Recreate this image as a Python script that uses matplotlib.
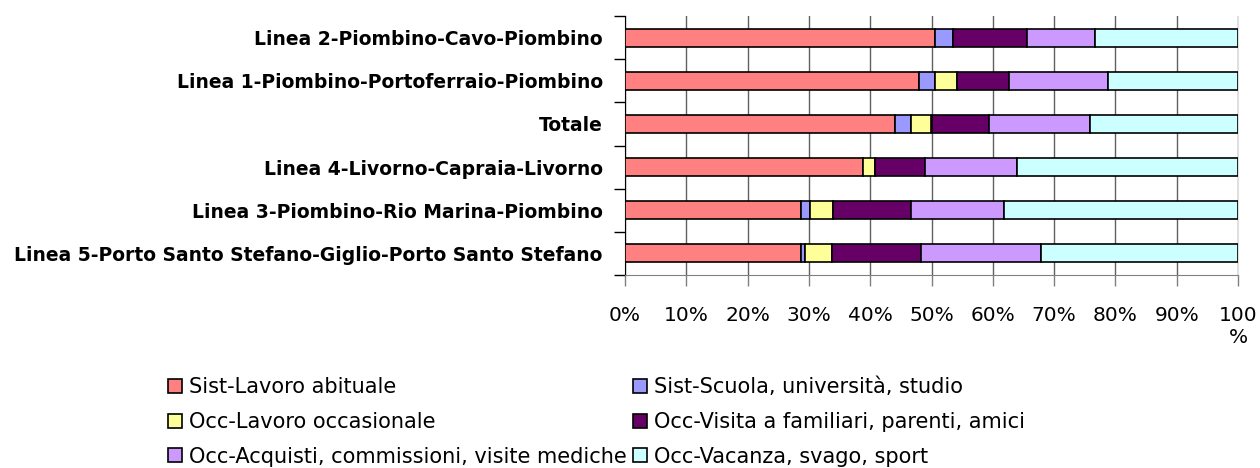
import numpy as np
import matplotlib.pyplot as plt
from matplotlib.patches import Patch

plt.rcParams['font.family'] = ['DejaVu Sans']

# categorie (dall'alto verso il basso)
linee = [
    "Linea 2-Piombino-Cavo-Piombino",
    "Linea 1-Piombino-Portoferraio-Piombino",
    "Totale",
    "Linea 4-Livorno-Capraia-Livorno",
    "Linea 3-Piombino-Rio Marina-Piombino",
    "Linea 5-Porto Santo Stefano-Giglio-Porto Santo Stefano",
]

motivi = [
    "Sist-Lavoro abituale",
    "Sist-Scuola, università, studio",
    "Occ-Lavoro occasionale",
    "Occ-Visita a familiari, parenti, amici",
    "Occ-Acquisti, commissioni, visite mediche",
    "Occ-Vacanza, svago, sport",
]

# quote percentuali per motivo (stesso ordine di linee)
sist_lavoro = [50.6, 48.0, 44.1, 38.8, 28.7, 28.7]
sist_scuola = [2.9, 2.5, 2.6, 0.0, 1.4, 0.7]
occ_lavoro = [0.0, 3.6, 3.3, 2.0, 3.9, 4.3]
occ_visita = [12.0, 8.5, 9.3, 8.1, 12.7, 14.6]
occ_acquisti = [11.1, 16.2, 16.6, 15.0, 15.2, 19.5]
occ_vacanza = [23.4, 21.2, 24.1, 36.1, 38.1, 32.2]

colori = ["#FF8080", "#9999FF", "#FFFF99", "#660066", "#CC99FF", "#CCFFFF"]

serie = [sist_lavoro, sist_scuola, occ_lavoro, occ_visita, occ_acquisti, occ_vacanza]

fig = plt.figure(figsize=(12.6, 4.68), dpi=100)
ax = fig.add_axes([625 / 1260, 1 - 275 / 468, 613 / 1260, 259 / 468])

y = np.arange(len(linee))
left = np.zeros(len(linee))
for valori, col in zip(serie, colori):
    valori = np.array(valori)
    ax.barh(y, valori, left=left, height=0.42, color=col,
            edgecolor="black", linewidth=1.2, zorder=3)
    left += valori

ax.set_xlim(0, 100)
ax.set_ylim(len(linee) - 0.5, -0.5)

ax.set_xticks(np.arange(0, 101, 10))
ax.set_xticklabels([f"{v}%" for v in range(0, 100, 10)] + ["100\n%"])
ax.tick_params(axis="x", direction="out", length=8, width=1, color="#808080",
               labelsize=14.5, pad=14)
ax.grid(axis="x", color="#606060", linewidth=1, zorder=0)

ax.set_yticks(y)
ax.set_yticklabels(linee, fontweight="bold", fontsize=13.5)
ax.set_yticks(np.arange(-0.5, len(linee), 1), minor=True)
ax.tick_params(axis="y", which="major", length=0, pad=16)
ax.tick_params(axis="y", which="minor", direction="out", length=8, width=1)

ax.spines["top"].set_visible(False)
ax.spines["right"].set_color("#e0e0e0")
ax.spines["bottom"].set_color("#808080")
ax.spines["left"].set_color("black")

# legenda a due colonne, riempita per righe
ordine = [0, 2, 4, 1, 3, 5]
handles = [Patch(facecolor=colori[i], edgecolor="black", linewidth=1.2) for i in ordine]
labels = [motivi[i] for i in ordine]
fig.legend(handles, labels, ncol=2, loc="upper left",
           bbox_to_anchor=(158 / 1260, 1 - 367 / 468), frameon=False,
           fontsize=15, handlelength=0.65, handleheight=0.65, handletextpad=0.35,
           columnspacing=0.3, labelspacing=0.7, borderpad=0)

fig.savefig("out.png", dpi=100)
